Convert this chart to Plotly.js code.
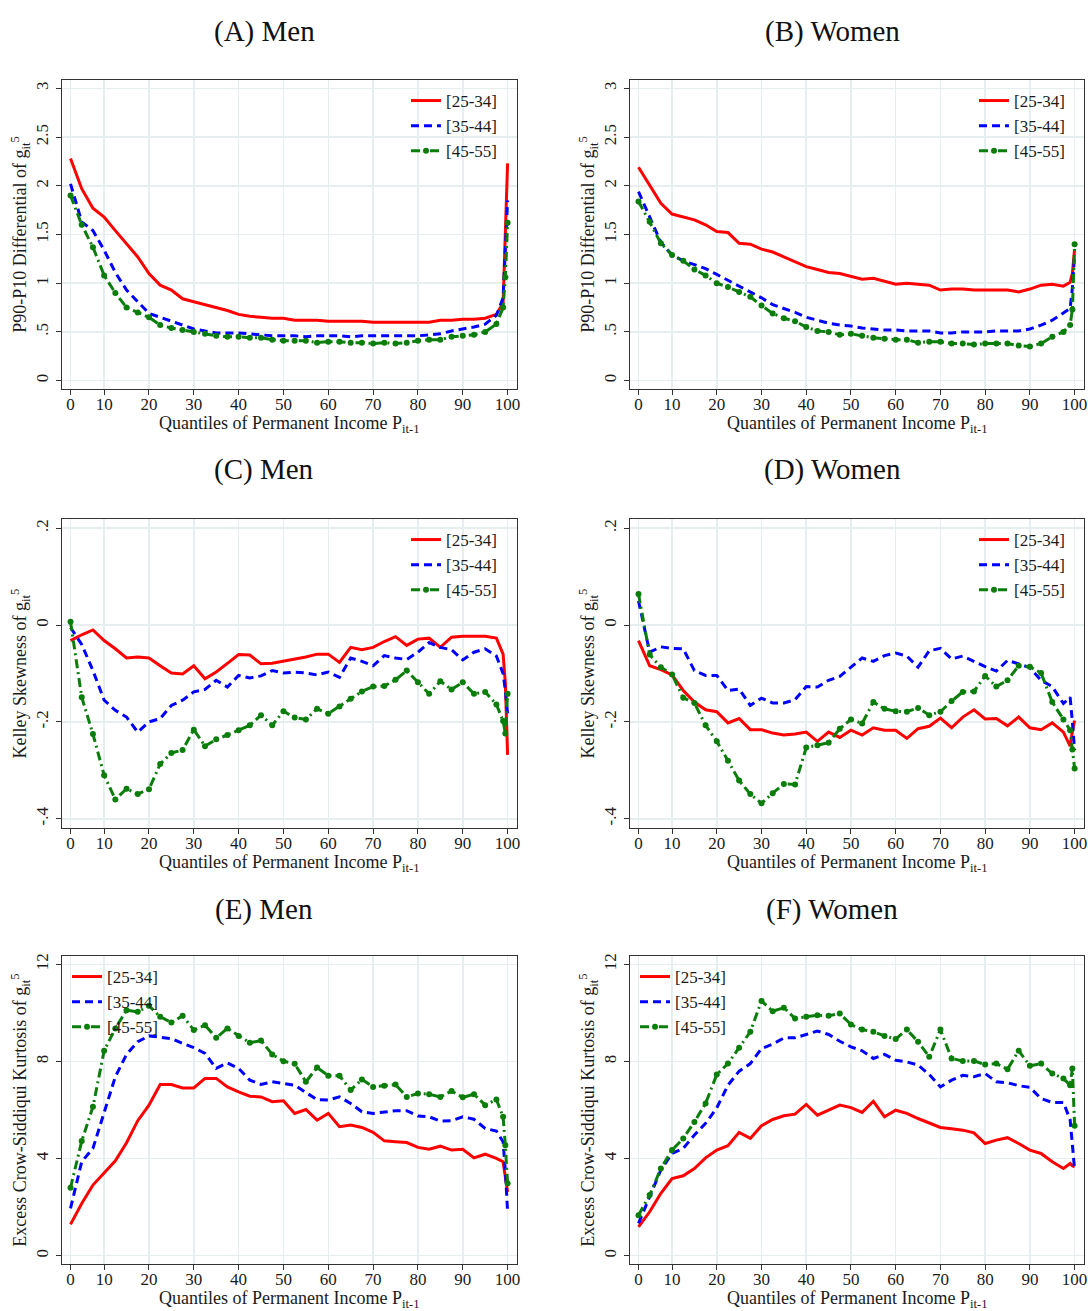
<!DOCTYPE html>
<html>
<head>
<meta charset="utf-8">
<script src="https://cdn.plot.ly/plotly-3.0.1.min.js"></script>
<style>html,body{margin:0;padding:0;background:#fff;}#chart{width:1088px;height:1311px;}</style>
</head>
<body>
<div id="chart"></div>
<script>
// Quantile positions (first point is labelled "0" on the axis)
const xq = [2.5,5,7.5,10,12.5,15,17.5,20,22.5,25,27.5,30,32.5,35,37.5,40,42.5,45,47.5,50,52.5,55,57.5,60,62.5,65,67.5,70,72.5,75,77.5,80,82.5,85,87.5,90,92.5,95,97.5,99,99.5,100];
const xTickVals = [2.5,10,20,30,40,50,60,70,80,90,100];
const xTickText = ['0','10','20','30','40','50','60','70','80','90','100'];
const seriesNames = ['[25-34]','[35-44]','[45-55]'];
const panelTitles = ['(A) Men','(B) Women','(C) Men','(D) Women','(E) Men','(F) Women'];

// (A) Men, P90-P10
const A_red = [2.28,1.97,1.77,1.68,1.54,1.41,1.27,1.10,0.98,0.93,0.84,0.81,0.78,0.75,0.72,0.68,0.66,0.65,0.64,0.64,0.62,0.62,0.62,0.61,0.61,0.61,0.61,0.60,0.60,0.60,0.60,0.60,0.60,0.62,0.62,0.63,0.63,0.64,0.68,0.80,1.50,2.23];
const A_blue = [2.02,1.63,1.54,1.34,1.11,0.93,0.81,0.69,0.65,0.61,0.57,0.53,0.51,0.49,0.49,0.49,0.48,0.47,0.46,0.46,0.46,0.45,0.46,0.46,0.46,0.45,0.46,0.46,0.46,0.46,0.46,0.46,0.47,0.48,0.51,0.53,0.55,0.58,0.67,0.85,1.30,1.85];
const A_green = [1.90,1.60,1.37,1.08,0.90,0.75,0.70,0.65,0.57,0.54,0.52,0.50,0.48,0.46,0.45,0.45,0.44,0.44,0.42,0.41,0.41,0.41,0.39,0.40,0.40,0.39,0.39,0.38,0.39,0.38,0.39,0.41,0.42,0.42,0.45,0.46,0.47,0.50,0.58,0.75,1.06,1.62];
// (B) Women, P90-P10
const B_red = [2.19,2.01,1.82,1.71,1.68,1.65,1.60,1.53,1.52,1.41,1.40,1.35,1.32,1.27,1.22,1.17,1.14,1.11,1.10,1.07,1.04,1.05,1.02,0.99,1.00,0.99,0.98,0.93,0.94,0.94,0.93,0.93,0.93,0.93,0.91,0.94,0.98,0.99,0.97,1.01,1.10,1.35];
const B_blue = [1.94,1.68,1.42,1.29,1.23,1.19,1.15,1.09,1.03,0.97,0.91,0.85,0.78,0.74,0.70,0.65,0.62,0.59,0.57,0.56,0.54,0.53,0.52,0.52,0.51,0.51,0.51,0.49,0.49,0.50,0.50,0.50,0.51,0.51,0.51,0.53,0.57,0.62,0.69,0.74,0.95,1.30];
const B_green = [1.84,1.63,1.41,1.29,1.23,1.14,1.08,1.00,0.96,0.91,0.86,0.77,0.69,0.64,0.61,0.55,0.51,0.50,0.47,0.48,0.46,0.44,0.43,0.42,0.42,0.39,0.40,0.40,0.38,0.38,0.37,0.38,0.38,0.38,0.36,0.35,0.38,0.45,0.50,0.57,0.73,1.40];
// (C) Men, Kelley skewness
const C_red = [-0.032,-0.020,-0.010,-0.032,-0.049,-0.068,-0.066,-0.068,-0.084,-0.099,-0.101,-0.084,-0.111,-0.097,-0.079,-0.061,-0.062,-0.080,-0.079,-0.075,-0.070,-0.066,-0.060,-0.060,-0.077,-0.046,-0.051,-0.046,-0.034,-0.024,-0.042,-0.029,-0.027,-0.046,-0.025,-0.023,-0.023,-0.023,-0.027,-0.060,-0.120,-0.268];
const C_blue = [-0.005,-0.040,-0.094,-0.155,-0.176,-0.190,-0.221,-0.200,-0.193,-0.166,-0.155,-0.138,-0.133,-0.114,-0.128,-0.104,-0.109,-0.105,-0.094,-0.099,-0.097,-0.099,-0.103,-0.097,-0.108,-0.068,-0.075,-0.084,-0.063,-0.068,-0.071,-0.056,-0.036,-0.046,-0.051,-0.072,-0.056,-0.049,-0.064,-0.100,-0.135,-0.183];
const C_green = [0.007,-0.149,-0.225,-0.310,-0.360,-0.338,-0.349,-0.339,-0.287,-0.264,-0.258,-0.216,-0.250,-0.236,-0.227,-0.217,-0.207,-0.186,-0.207,-0.178,-0.191,-0.195,-0.173,-0.183,-0.168,-0.152,-0.137,-0.127,-0.126,-0.113,-0.094,-0.118,-0.142,-0.116,-0.133,-0.118,-0.142,-0.138,-0.164,-0.198,-0.224,-0.142];
// (D) Women, Kelley skewness
const D_red = [-0.032,-0.084,-0.092,-0.103,-0.135,-0.159,-0.175,-0.179,-0.202,-0.193,-0.216,-0.216,-0.223,-0.227,-0.225,-0.221,-0.240,-0.221,-0.232,-0.217,-0.227,-0.212,-0.217,-0.217,-0.234,-0.214,-0.209,-0.192,-0.212,-0.190,-0.175,-0.194,-0.193,-0.208,-0.190,-0.212,-0.216,-0.202,-0.221,-0.250,-0.220,-0.197];
const D_blue = [0.050,-0.056,-0.045,-0.048,-0.049,-0.094,-0.104,-0.104,-0.135,-0.132,-0.166,-0.151,-0.161,-0.161,-0.154,-0.127,-0.128,-0.114,-0.106,-0.087,-0.068,-0.075,-0.063,-0.058,-0.064,-0.087,-0.053,-0.048,-0.070,-0.064,-0.075,-0.086,-0.095,-0.073,-0.080,-0.088,-0.114,-0.127,-0.162,-0.149,-0.200,-0.258];
const D_green = [0.064,-0.061,-0.087,-0.102,-0.150,-0.161,-0.207,-0.240,-0.280,-0.321,-0.349,-0.368,-0.347,-0.328,-0.329,-0.253,-0.248,-0.243,-0.214,-0.195,-0.203,-0.159,-0.173,-0.178,-0.179,-0.171,-0.186,-0.179,-0.157,-0.138,-0.137,-0.105,-0.127,-0.114,-0.084,-0.086,-0.099,-0.159,-0.195,-0.217,-0.257,-0.296];
// (E) Men, Crow-Siddiqui kurtosis
const E_red = [1.29,2.15,2.91,3.43,3.91,4.65,5.56,6.20,7.05,7.05,6.91,6.91,7.30,7.30,6.95,6.75,6.57,6.54,6.34,6.38,5.86,6.02,5.58,5.86,5.31,5.38,5.28,5.08,4.73,4.69,4.66,4.46,4.39,4.51,4.35,4.38,4.03,4.18,4.01,3.87,3.30,2.63];
const E_blue = [1.95,3.87,4.42,5.93,7.37,8.29,8.81,9.05,9.01,8.94,8.74,8.57,8.33,7.71,7.94,7.71,7.23,7.05,7.16,7.09,7.02,6.72,6.43,6.41,6.54,6.27,5.93,5.86,5.93,5.97,5.97,5.75,5.72,5.54,5.56,5.72,5.62,5.24,5.13,4.69,3.50,1.81];
const E_green = [2.80,4.72,6.13,8.44,9.36,10.11,10.04,10.29,9.84,9.60,9.88,9.29,9.49,8.97,9.36,9.05,8.77,8.86,8.29,8.01,7.90,7.16,7.75,7.41,7.41,6.82,7.26,6.95,7.00,7.05,6.54,6.68,6.65,6.54,6.78,6.52,6.65,6.20,6.43,5.72,4.55,2.98];
// (F) Women, Crow-Siddiqui kurtosis
const F_red = [1.19,1.81,2.57,3.18,3.29,3.59,4.03,4.35,4.53,5.08,4.83,5.35,5.61,5.76,5.83,6.23,5.79,5.99,6.20,6.10,5.90,6.36,5.72,5.99,5.86,5.65,5.45,5.28,5.23,5.17,5.06,4.62,4.76,4.86,4.62,4.35,4.21,3.87,3.59,3.80,3.70,3.66];
const F_blue = [1.33,2.43,3.53,4.21,4.42,4.97,5.45,6.09,7.02,7.60,7.91,8.53,8.71,8.97,8.97,9.11,9.25,9.11,8.83,8.60,8.44,8.12,8.29,8.05,7.98,7.85,7.46,6.95,7.23,7.43,7.37,7.50,7.16,7.12,7.00,6.93,6.47,6.31,6.31,5.60,4.60,3.55];
const F_green = [1.67,2.50,3.59,4.35,4.83,5.51,6.27,7.46,7.91,8.56,9.22,10.49,10.07,10.21,9.77,9.84,9.90,9.88,9.97,9.52,9.31,9.22,9.05,8.92,9.31,8.81,8.19,9.31,8.12,8.02,8.02,7.87,7.91,7.68,8.44,7.82,7.91,7.50,7.30,7.02,7.71,5.35];

// y-axis ticks
const p9010Vals = [0,0.5,1,1.5,2,2.5,3];
const p9010Text = ['0','.5','1','1.5','2','2.5','3'];
const skewVals = [-0.4,-0.2,0,0.2];
const skewText = ['-.4','-.2','0','.2'];
const kurtVals = [0,4,8,12];
const kurtText = ['0','4','8','12'];

const yTitleP = 'P90-P10 Differential of g<sub>it</sub><sup>5</sup>';
const yTitleS = 'Kelley Skewness of g<sub>it</sub><sup>5</sup>';
const yTitleK = 'Excess Crow-Siddiqui Kurtosis of g<sub>it</sub><sup>5</sup>';
const xTitle = 'Quantiles of Permanent Income P<sub>it-1</sub>';

const W = 1088, H = 1311;
const FONT = 'Liberation Serif, Times New Roman, serif';
const colors = ['#ff0000','#0000ff','#0b7d0b'];

const panels = [
  {data:[A_red,A_blue,A_green], tv:p9010Vals, tt:p9010Text, range:[-0.086,3.086], yt:yTitleP, col:0, row:0, leg:'right'},
  {data:[B_red,B_blue,B_green], tv:p9010Vals, tt:p9010Text, range:[-0.086,3.086], yt:yTitleP, col:1, row:0, leg:'right'},
  {data:[C_red,C_blue,C_green], tv:skewVals, tt:skewText, range:[-0.419,0.219], yt:yTitleS, col:0, row:1, leg:'right', zero:true},
  {data:[D_red,D_blue,D_green], tv:skewVals, tt:skewText, range:[-0.419,0.219], yt:yTitleS, col:1, row:1, leg:'right', zero:true},
  {data:[E_red,E_blue,E_green], tv:kurtVals, tt:kurtText, range:[-0.34,12.34], yt:yTitleK, col:0, row:2, leg:'left'},
  {data:[F_red,F_blue,F_green], tv:kurtVals, tt:kurtText, range:[-0.34,12.34], yt:yTitleK, col:1, row:2, leg:'left'}
];

const colLeft = [62, 630], colRight = [517, 1084];
const rowTop = [80, 519, 956], rowBot = [389, 828, 1264];
const titleX = [264, 832], titleY = [31, 470, 909];
const xTitleOffset = [35, 35, 35];

const traces = [];
const layout = {
  width: W, height: H,
  margin: {l:0, r:0, t:0, b:0},
  paper_bgcolor: '#ffffff', plot_bgcolor: '#ffffff',
  font: {family: FONT, size: 17, color: '#1a1a1a'},
  showlegend: true,
  annotations: [], shapes: []
};

panels.forEach((p, i) => {
  const n = i + 1;
  const xa = n === 1 ? 'x' : 'x' + n;
  const ya = n === 1 ? 'y' : 'y' + n;
  const xk = n === 1 ? 'xaxis' : 'xaxis' + n;
  const yk = n === 1 ? 'yaxis' : 'yaxis' + n;
  const lk = n === 1 ? 'legend' : 'legend' + n;

  const styles = [
    {line:{color:colors[0], width:3}, mode:'lines'},
    {line:{color:colors[1], width:3, dash:'8px,5px'}, mode:'lines'},
    {line:{color:colors[2], width:3, dash:'9px,4px,2px,4px'}, mode:'lines+markers', marker:{color:colors[2], size:6, symbol:'circle'}}
  ];
  p.data.forEach((ys, k) => {
    const t = Object.assign({type:'scatter', x:xq, y:ys, name:seriesNames[k], xaxis:xa, yaxis:ya, legend:lk, hoverinfo:'skip'}, styles[k]);
    traces.push(t);
  });

  const x0 = colLeft[p.col] / W, x1 = colRight[p.col] / W;
  const y1 = 1 - rowTop[p.row] / H, y0 = 1 - rowBot[p.row] / H;

  layout[xk] = {
    domain:[x0, x1], anchor: ya, range:[0.6, 102.1],
    tickmode:'array', tickvals:xTickVals, ticktext:xTickText,
    ticks:'outside', ticklen:5, tickcolor:'#333', tickwidth:1, ticklabelstandoff:-5,
    showline:true, mirror:true, linecolor:'#333', linewidth:1,
    showgrid:true, gridcolor:'#e6eef0', gridwidth:1.5, zeroline:false,
    tickfont:{family:FONT, size:17, color:'#1a1a1a'},
    automargin:false, fixedrange:true
  };
  layout[yk] = {
    domain:[y0, y1], anchor: xa, range:p.range,
    tickmode:'array', tickvals:p.tv, ticktext:p.tt, tickangle:-90,
    ticks:'outside', ticklen:5, tickcolor:'#333', tickwidth:1, ticklabelstandoff:1,
    showline:true, mirror:true, linecolor:'#333', linewidth:1,
    showgrid:true, gridcolor:'#e6eef0', gridwidth:1.5, zeroline:false,
    tickfont:{family:FONT, size:17, color:'#1a1a1a'},
    title:{text:p.yt, font:{family:FONT, size:18, color:'#1a1a1a'}, standoff:0},
    automargin:false, fixedrange:true
  };

  const legX = p.leg === 'right' ? (colLeft[p.col] + 344) / W : (colLeft[p.col] + 5) / W;
  layout[lk] = {
    x: legX, xanchor:'left', y: 1 - (rowTop[p.row] + 3) / H, yanchor:'top',
    bgcolor:'rgba(0,0,0,0)', borderwidth:0, itemwidth:30,
    font:{family:FONT, size:17, color:'#1a1a1a'}, tracegroupgap:0
  };

  layout.annotations.push({
    text: panelTitles[i], xref:'paper', yref:'paper',
    x: titleX[p.col] / W, y: 1 - titleY[p.row] / H, xanchor:'center', yanchor:'middle',
    showarrow:false, font:{family:FONT, size:29, color:'#111'}
  });
  // x-axis title
  layout.annotations.push({
    text: xTitle, xref:'paper', yref:'paper',
    x: (x0 + x1) / 2, y: 1 - (rowBot[p.row] + xTitleOffset[p.row]) / H, xanchor:'center', yanchor:'middle',
    showarrow:false, font:{family:FONT, size:18, color:'#1a1a1a'}
  });

  if (p.zero) {
    layout.shapes.push({
      type:'line', xref: xa + ' domain', yref: ya, x0:0, x1:1, y0:0, y1:0,
      line:{color:'#555', width:1.8, dash:'8px,5px'}, layer:'below'
    });
  }
});

Plotly.newPlot('chart', traces, layout, {staticPlot:true, displayModeBar:false});
</script>
</body>
</html>
